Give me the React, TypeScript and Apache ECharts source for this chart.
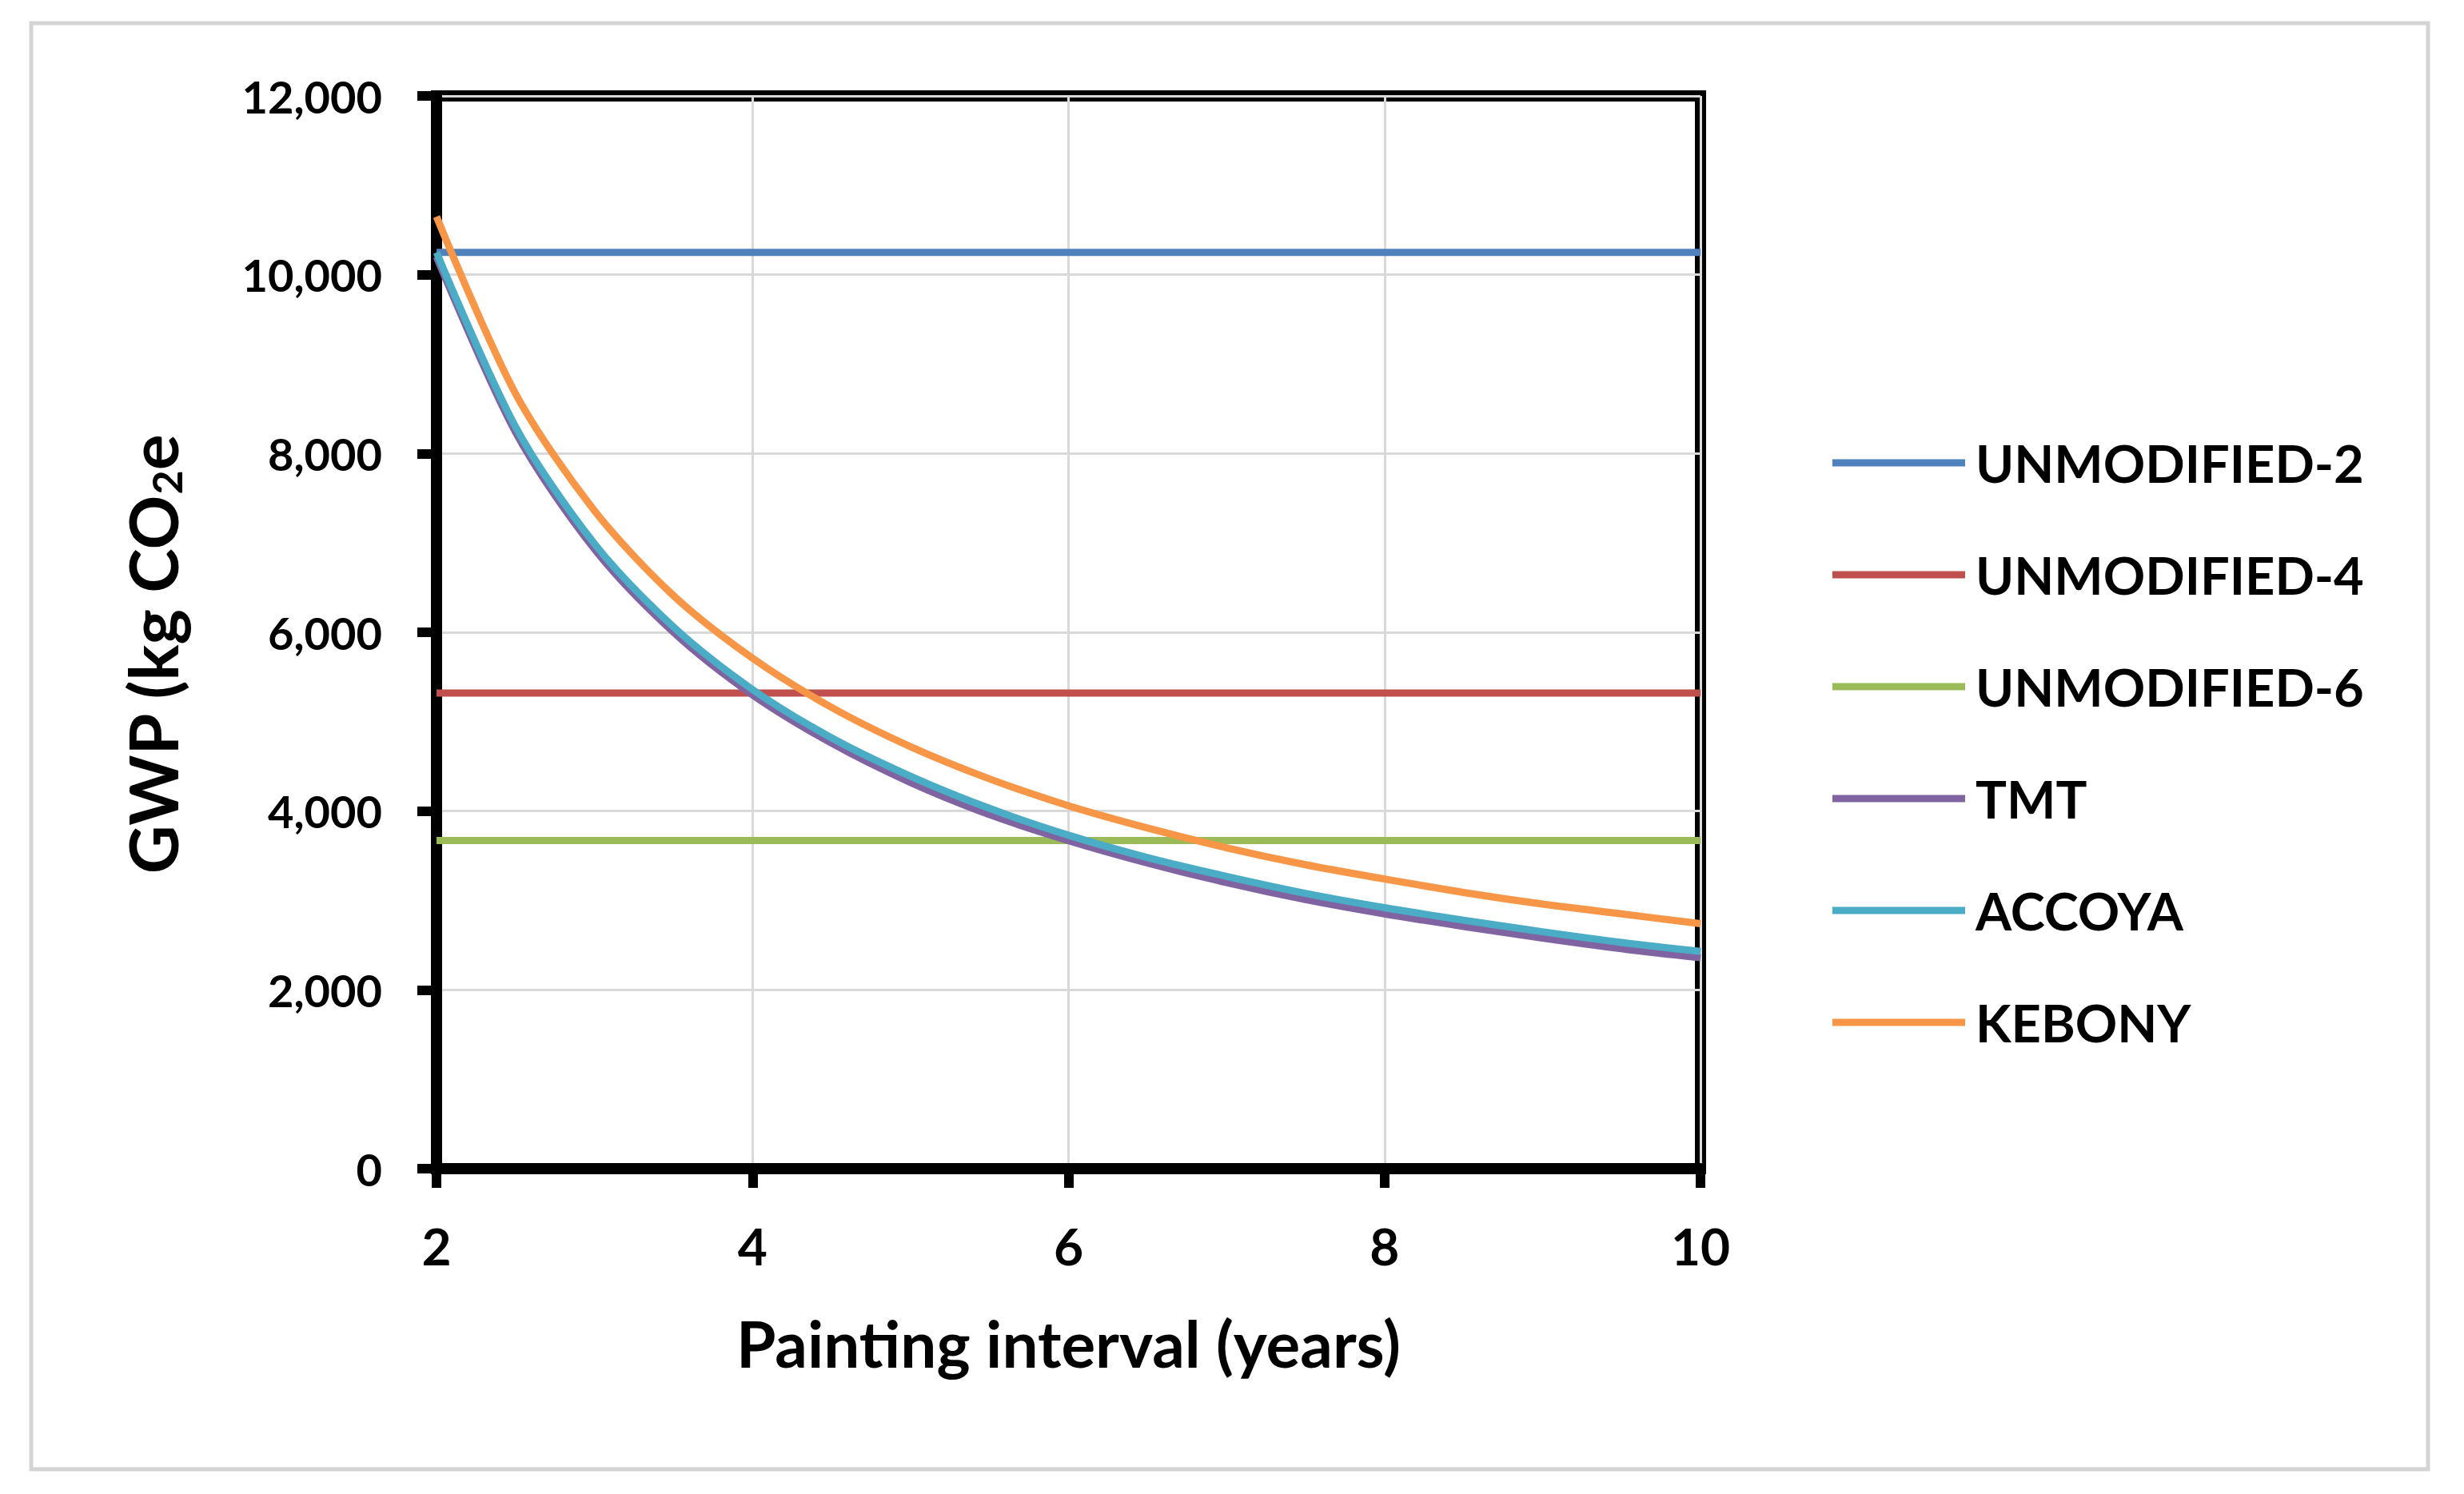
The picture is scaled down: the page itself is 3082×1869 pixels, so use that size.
import React, { useEffect, useRef } from "react";
import * as echarts from "echarts";

// Painting interval (years) sampled along the curves
const intervals = [2, 2.5, 3, 3.5, 4, 4.5, 5, 5.5, 6, 6.5, 7, 7.5, 8, 8.5, 9, 9.5, 10];
const tmt = [10200, 8240, 6930, 6000, 5300, 4760, 4320, 3960, 3670, 3420, 3200, 3010, 2850, 2710, 2580, 2460, 2360];
const accoya = [10250, 8300, 6990, 6060, 5360, 4820, 4390, 4030, 3730, 3480, 3270, 3080, 2920, 2780, 2650, 2530, 2430];
const kebony = [10650, 8670, 7360, 6410, 5710, 5160, 4720, 4360, 4060, 3810, 3590, 3400, 3240, 3090, 2960, 2850, 2740];

// Flat reference lines (unmodified wood)
const flatX = [2, 10];
const unmodified2 = [10250, 10250];
const unmodified4 = [5320, 5320];
const unmodified6 = [3670, 3670];

const seriesNames = ["UNMODIFIED-2", "UNMODIFIED-4", "UNMODIFIED-6", "TMT", "ACCOYA", "KEBONY"];
const seriesColors = ["#4F81BD", "#C0504D", "#9BBB59", "#8064A2", "#4BACC6", "#F79646"];

const xTicks = [2, 4, 6, 8, 10];
const yTicks = [0, 2000, 4000, 6000, 8000, 10000, 12000];

const xTitle = "Painting interval (years)";
const yTitle = "{a|GWP (kg CO}{s|2}{e|e}";

const FONT = "Lato";

function pairs(xs: number[], ys: number[]) {
  return xs.map((x, i) => [x, ys[i]]);
}

export default function App() {
  const ref = useRef<HTMLDivElement>(null);

  useEffect(() => {
    if (!ref.current) return;
    const chart = echarts.init(ref.current, undefined, { renderer: "svg" });

    const ys = [unmodified2, unmodified4, unmodified6, tmt, accoya, kebony];
    const xs = [flatX, flatX, flatX, intervals, intervals, intervals];

    const series = seriesNames.map((name, i) => ({
      name,
      type: "line",
      data: pairs(xs[i], ys[i]),
      smooth: i >= 3 ? 0.3 : false,
      showSymbol: false,
      symbol: "none",
      lineStyle: { color: seriesColors[i], width: 9 },
      itemStyle: { color: seriesColors[i] },
      z: 3 + i,
    }));

    chart.setOption({
      animation: false,
      backgroundColor: "#ffffff",
      textStyle: { fontFamily: FONT },
      graphic: [
        {
          type: "rect",
          shape: { x: 39, y: 29, width: 2998, height: 1809 },
          style: { fill: "none", stroke: "#d4d4d4", lineWidth: 5 },
          silent: true,
          z: -1,
        },
      ],
      grid: {
        left: 546,
        top: 120,
        width: 1581,
        height: 1342,
        show: true,
        borderColor: "#000",
        borderWidth: 14,
        backgroundColor: "transparent",
      },
      xAxis: {
        type: "value",
        min: xTicks[0],
        max: xTicks[xTicks.length - 1],
        interval: 2,
        name: xTitle,
        nameLocation: "middle",
        nameGap: 174,
        nameTextStyle: {
          fontFamily: FONT,
          fontWeight: "bold",
          fontSize: 80,
          lineHeight: 88,
          color: "#000",
        },
        axisLine: { show: true, lineStyle: { color: "#000", width: 14 } },
        axisTick: { show: true, length: 24, lineStyle: { color: "#000", width: 12 } },
        axisLabel: {
          margin: 64,
          fontFamily: FONT,
          fontWeight: "bold",
          fontSize: 64,
          lineHeight: 64,
          color: "#000",
          formatter: (v: number) => String(v),
        },
        splitLine: { show: true, lineStyle: { color: "#d9d9d9", width: 3 } },
      },
      yAxis: {
        type: "value",
        min: yTicks[0],
        max: yTicks[yTicks.length - 1],
        interval: 2000,
        name: yTitle,
        nameLocation: "middle",
        nameRotate: 90,
        nameGap: 312,
        nameTextStyle: {
          rich: {
            a: {
              fontFamily: FONT,
              fontWeight: "bold",
              fontSize: 84,
              lineHeight: 88,
              color: "#000",
            },
            s: {
              fontFamily: FONT,
              fontWeight: "bold",
              fontSize: 52,
              lineHeight: 36,
              verticalAlign: "bottom",
              color: "#000",
            },
            e: {
              fontFamily: FONT,
              fontWeight: "bold",
              fontSize: 84,
              lineHeight: 88,
              color: "#000",
              padding: [0, 56, 0, 0],
            },
          },
        },
        axisLine: { show: true, lineStyle: { color: "#000", width: 14 } },
        axisTick: { show: true, length: 24, lineStyle: { color: "#000", width: 12 } },
        axisLabel: {
          margin: 68,
          fontFamily: FONT,
          fontWeight: "bold",
          fontSize: 56,
          color: "#000",
          formatter: (v: number) => v.toLocaleString("en-US"),
        },
        splitLine: { show: true, lineStyle: { color: "#d9d9d9", width: 3 } },
      },
      legend: {
        orient: "vertical",
        left: 2287,
        top: 539,
        icon: "rect",
        itemWidth: 166,
        itemHeight: 9,
        itemGap: 70,
        textStyle: {
          fontFamily: FONT,
          fontWeight: "bold",
          fontSize: 65,
          lineHeight: 70,
          color: "#000",
          padding: [0, 0, 0, 8],
        },
        data: seriesNames,
      },
      series,
    });

    return () => chart.dispose();
  }, []);

  return (
    <div
      ref={ref}
      style={{ position: "fixed", left: 0, top: 0, width: 3082, height: 1869, background: "#fff" }}
    />
  );
}
